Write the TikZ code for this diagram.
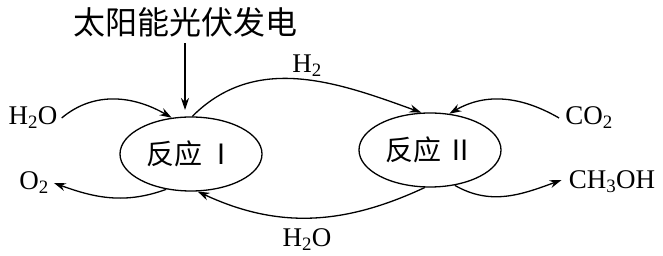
\documentclass[tikz,border=0pt]{standalone}
\usepackage{fontspec}
\setmainfont{Liberation Serif}
\newfontfamily\cjk{Noto Sans CJK SC}
\usetikzlibrary{arrows.meta,shapes.geometric,calc}
\begin{document}
\begin{tikzpicture}[x=1pt,y=1pt,
  arr/.style={line width=1.3pt,-{Stealth[length=12pt,width=8pt]}},
  ell/.style={draw,line width=1.3pt,ellipse,minimum width=142pt,minimum height=74pt,inner sep=0pt},
  lab/.style={font=\fontsize{27}{27}\selectfont,inner sep=0pt}]
\useasboundingbox (0,0) rectangle (663,256);
\node[ell,font=\fontsize{28}{28}\selectfont\cjk] (e1) at (191,102) {反应\,Ⅰ};
\node[ell,font=\fontsize{28}{28}\selectfont\cjk] (e2) at (430,106) {反应\,Ⅱ};
\node[lab,font=\fontsize{32}{32}\selectfont\cjk] (sun) at (185,234) {太阳能光伏发电};
\node[lab] (h2ol) at (33,138) {H\textsubscript{2}O};
\node[lab] (o2) at (34,73) {O\textsubscript{2}};
\node[lab] (h2) at (307,190) {H\textsubscript{2}};
\node[lab] (h2ob) at (307,16) {H\textsubscript{2}O};
\node[lab] (co2) at (589,138) {CO\textsubscript{2}};
\node[lab] (ch3oh) at (612,74) {CH\textsubscript{3}OH};
\coordinate (sunend) at (185,146);
\draw[arr] (sun.south) ++(0,-6) -- (sunend);
\draw[arr] (h2ol.east) ++(4,0) to[out=40,in=150] (e1.118);
\draw[arr] (e1.235) to[out=200,in=-20] ($(o2.east)+(5,0)$);
\draw[arr] (e1.88) to[out=45,in=160] (e2.103);
\draw[arr] (e2.262) to[out=205,in=-25] (e1.280);
\draw[arr] (co2.west) ++(-6,0) to[out=150,in=30] (e2.62);
\draw[arr] (e2.305) to[out=-30,in=200] ($(ch3oh.west)+(-7,2)$);
\end{tikzpicture}
\end{document}
